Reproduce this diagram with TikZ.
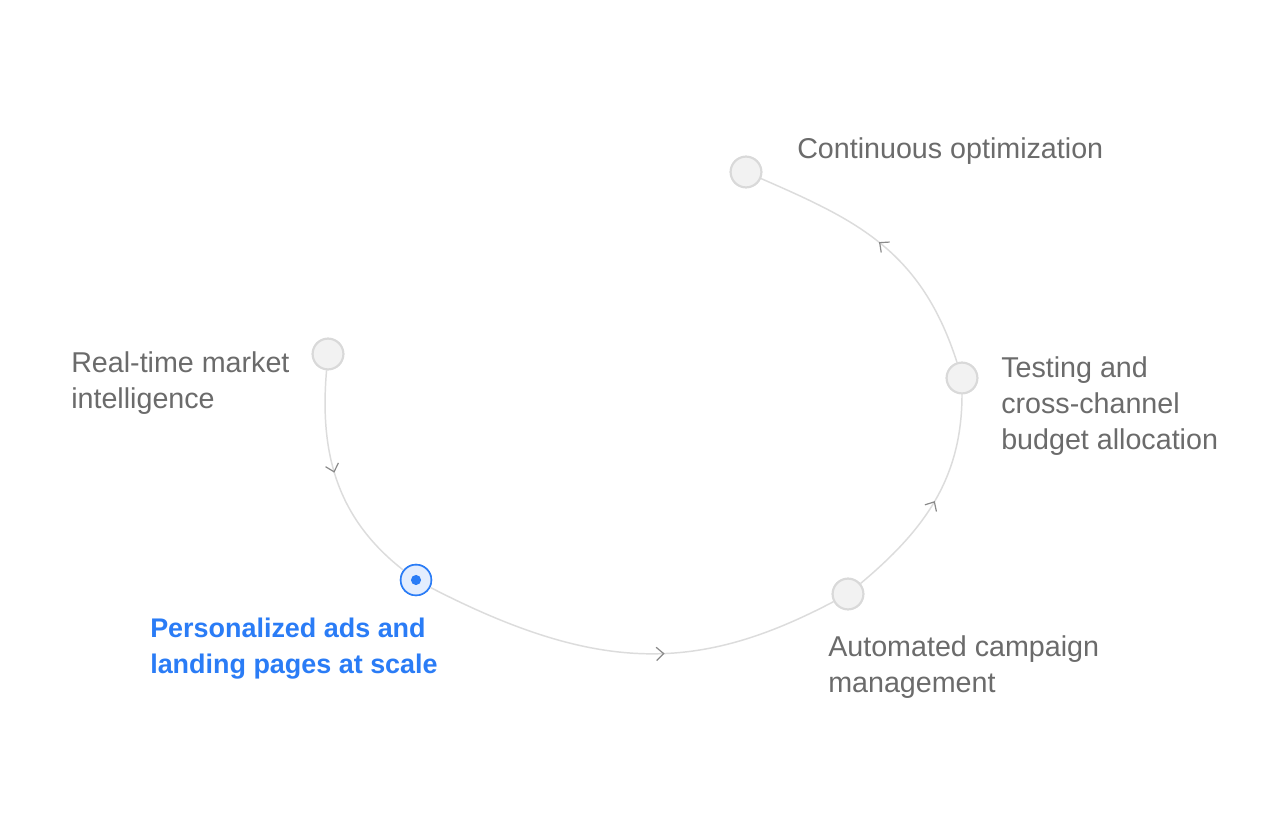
\documentclass[tikz,border=0pt]{standalone}
\usepackage{fontspec}
\setmainfont{Liberation Sans}
\usetikzlibrary{arrows.meta,decorations.markings}
\definecolor{linegray}{HTML}{DCDCDC}
\definecolor{arrowgray}{HTML}{8A8A8A}
\definecolor{dotfill}{HTML}{F2F2F2}
\definecolor{dotdraw}{HTML}{D9D9D9}
\definecolor{textgray}{HTML}{6B6B6B}
\definecolor{accent}{HTML}{2A7CF6}
\definecolor{accentfill}{HTML}{E3EDFE}
\tikzset{
  stepdot/.style={circle, minimum size=23pt, inner sep=0pt, fill=dotfill, draw=dotdraw, line width=1.5pt},
  activedot/.style={circle, minimum size=23pt, inner sep=0pt, fill=accentfill, draw=accent, line width=1.2pt},
  lbl/.style={anchor=west, align=left, inner sep=0pt, text=textgray, font=\fontsize{21.5pt}{27pt}\selectfont},
  activelbl/.style={anchor=west, align=left, inner sep=0pt, text=accent, font=\fontsize{20.2pt}{27pt}\selectfont\bfseries},
  flow/.style={draw=linegray, line width=1.1pt,
    postaction={decorate, decoration={markings, mark=at position #1 with {\arrow{Straight Barb[length=5.5pt,width=10pt,color=arrowgray,line width=0.9pt]}}}}},
  flow/.default=0.5
}
\begin{document}
\begin{tikzpicture}[x=0.75pt,y=-0.75pt]
\useasboundingbox[fill=white] (0,0) rectangle (1282,828);
\path (328,354) coordinate (p1) (416,580) coordinate (p2) (848,594) coordinate (p3) (962,378) coordinate (p4) (746,172) coordinate (p5);
% nodes (placed first so connectors can refer to them)
\node[stepdot] (n1) at (p1) {};
\node[activedot] (n2) at (p2) {};
\node[stepdot] (n3) at (p3) {};
\node[stepdot] (n4) at (p4) {};
\node[stepdot] (n5) at (p5) {};
% connectors
\path[flow=0.46] (n1) to[out=-95,in=142] (n2);
\path[flow=0.58] (n2) .. controls (600,675) and (700,672) .. (n3);
\path[flow] (n3) to[out=40,in=-90] (n4);
\path[flow=0.52] (n4) .. controls (921,250) and (856,220) .. (n5);
% nodes redrawn on top of the connectors
\node[stepdot] at (p1) {};
\node[activedot] at (p2) {};
\node[stepdot] at (p3) {};
\node[stepdot] at (p4) {};
\node[stepdot] at (p5) {};
\fill[accent] (p2) circle (3.8pt);
% labels
\node[lbl] (t5) at (797,151) {Continuous optimization};
\node[lbl] (t1) at (71,383) {Real-time market\\intelligence};
\node[lbl] (t4) at (1001,406) {Testing and\\cross-channel\\budget allocation};
\node[lbl] (t3) at (828,667) {Automated campaign\\management};
\node[activelbl] (t2) at (150,649) {Personalized ads and\\landing pages at scale};
\end{tikzpicture}
\end{document}
